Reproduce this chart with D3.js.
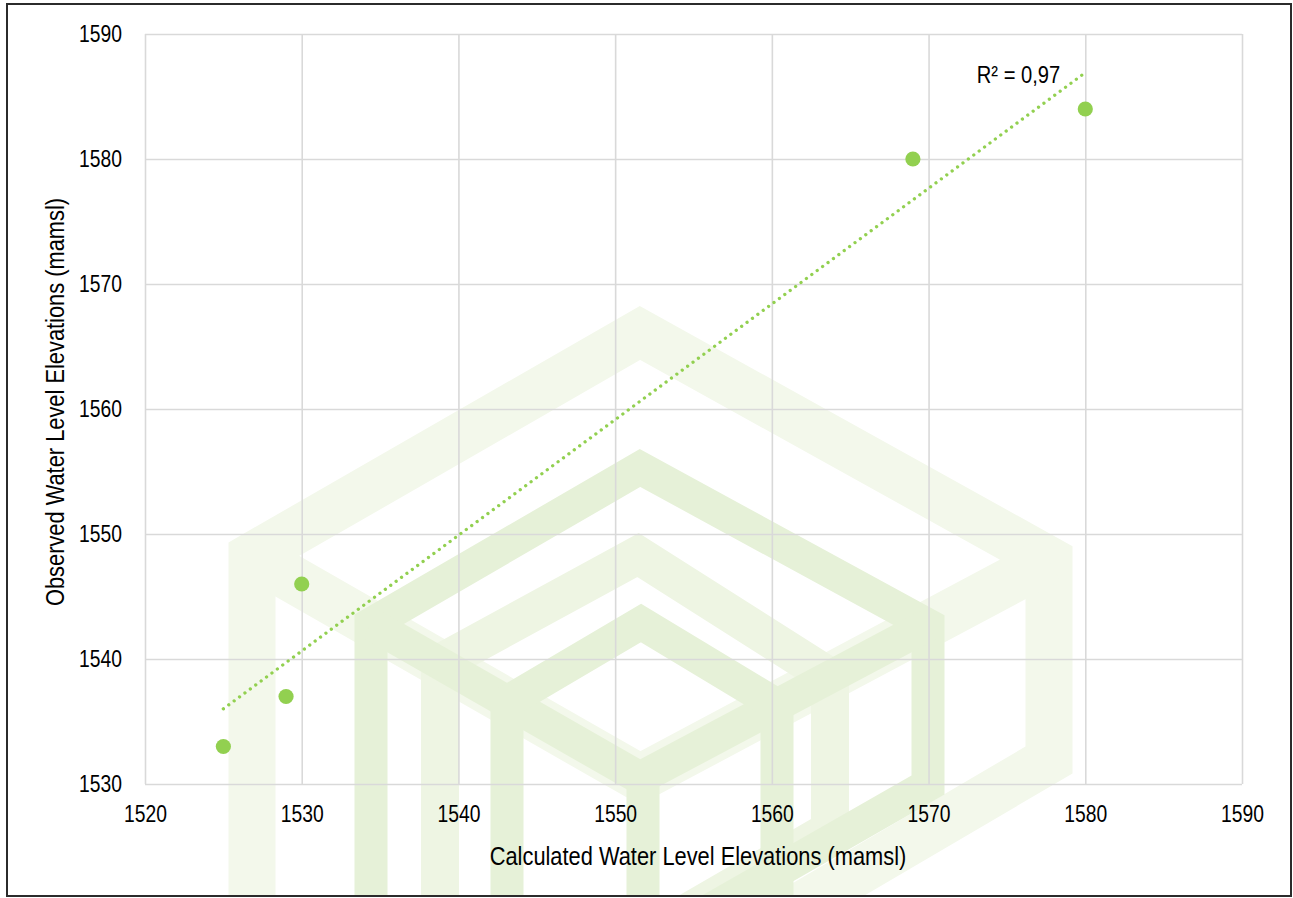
<!DOCTYPE html>
<html>
<head>
<meta charset="utf-8">
<script src="https://cdn.jsdelivr.net/npm/d3@7/dist/d3.min.js"></script>
<style>
  html, body { margin: 0; padding: 0; background: #fff; }
  svg { display: block; }
  .tick text, .title { font-family: "Liberation Sans", Arial, sans-serif; fill: #000; }
</style>
</head>
<body>
<svg id="chart" width="1293" height="898"></svg>
<script>
// Calculated vs observed water level elevations (m above mean sea level)
const calculated = [1525, 1529, 1530, 1569, 1580];
const observed   = [1533, 1537, 1546, 1580, 1584];
const xTicks = [1520, 1530, 1540, 1550, 1560, 1570, 1580, 1590];
const yTicks = [1530, 1540, 1550, 1560, 1570, 1580, 1590];
const xTitle = "Calculated Water Level Elevations (mamsl)";
const yTitle = "Observed Water Level Elevations (mamsl)";

const W = 1293, H = 898;
const plot = { left: 145, right: 1242, top: 34, bottom: 784 };
const green = "#92d050";
const gridColor = "#d9d9d9";
const NARROW = 0.84; // horizontal squeeze giving a narrow sans face

const svg = d3.select("#chart");

const x = d3.scaleLinear().domain([1520, 1590]).range([plot.left, plot.right]);
const y = d3.scaleLinear().domain([1530, 1590]).range([plot.bottom, plot.top]);

// squeeze a text element horizontally about its own anchor x
function narrow(sel) {
  sel.each(function () {
    const t = d3.select(this);
    const ax = +(t.attr("x") || 0);
    t.attr("transform", `translate(${ax},0) scale(${NARROW},1) translate(${-ax},0)`);
  });
}

// chart frame clip
svg.append("defs").append("clipPath").attr("id", "frame")
  .append("rect").attr("x", 7).attr("y", 4).attr("width", 1284).attr("height", 892);

svg.append("rect").attr("width", W).attr("height", H).attr("fill", "#fff");

// faint isometric cube emblem in the background
const emblem = svg.append("g").attr("clip-path", "url(#frame)")
  .attr("fill", "none").attr("stroke-linejoin", "miter").attr("stroke-miterlimit", 10);
const light = "#f3f8eb", mid = "#eef5e3", dark = "#e6f1d8";
const strokes = [
  // outer cube
  { c: light, w: 47, p: [[252, 960], [252, 556], [640, 333], [1049, 560], [1049, 760], [640, 1000]] },
  { c: light, w: 47, p: [[252, 556], [640, 778], [1049, 560]] },
  // third cube
  { c: mid, w: 38, p: [[440, 960], [440, 663], [638, 555], [830, 677], [830, 830], [640, 940]] },
  // second cube
  { c: dark, w: 33, p: [[371, 960], [371, 624], [640, 468], [928, 625], [928, 785], [640, 950]] },
  { c: dark, w: 33, p: [[371, 624], [640, 778], [928, 625]] },
  // inner cube
  { c: dark, w: 33, p: [[507, 960], [507, 702], [641, 623], [777, 705], [777, 960]] },
  // centre post
  { c: dark, w: 33, p: [[643, 778], [643, 960]] }
];
strokes.forEach(s => {
  emblem.append("path")
    .attr("d", d3.line()(s.p))
    .attr("stroke", s.c)
    .attr("stroke-width", s.w);
});

// gridlines
const grid = svg.append("g");
grid.append("g")
  .attr("transform", `translate(0,${plot.bottom})`)
  .call(d3.axisBottom(x).tickValues(xTicks).tickSize(-(plot.bottom - plot.top)).tickFormat(""))
  .call(g => g.select(".domain").remove())
  .call(g => g.selectAll("line").attr("stroke", gridColor).attr("stroke-width", 1.6));
grid.append("g")
  .attr("transform", `translate(${plot.left},0)`)
  .call(d3.axisLeft(y).tickValues(yTicks).tickSize(-(plot.right - plot.left)).tickFormat(""))
  .call(g => g.select(".domain").remove())
  .call(g => g.selectAll("line").attr("stroke", gridColor).attr("stroke-width", 1.6));

// tick labels
svg.append("g")
  .attr("transform", `translate(0,${plot.bottom})`)
  .call(d3.axisBottom(x).tickValues(xTicks).tickSize(0).tickPadding(22).tickFormat(d3.format("d")))
  .call(g => g.select(".domain").remove())
  .call(g => g.selectAll("text").attr("font-size", 23).call(narrow));
svg.append("g")
  .attr("transform", `translate(${plot.left},0)`)
  .call(d3.axisLeft(y).tickValues(yTicks).tickSize(0).tickPadding(23).tickFormat(d3.format("d")))
  .call(g => g.select(".domain").remove())
  .call(g => g.selectAll("text").attr("font-size", 23).call(narrow));

// axis titles
svg.append("text").attr("class", "title")
  .attr("x", 698).attr("y", 865)
  .attr("text-anchor", "middle").attr("font-size", 26)
  .text(xTitle)
  .call(narrow);
svg.append("text").attr("class", "title")
  .attr("transform", `translate(64,402) rotate(-90) scale(${NARROW},1)`)
  .attr("text-anchor", "middle").attr("font-size", 26)
  .text(yTitle);

// linear least-squares trendline
const n = calculated.length;
const mx = d3.mean(calculated), my = d3.mean(observed);
let sxy = 0, sxx = 0, syy = 0;
for (let i = 0; i < n; i++) {
  sxy += (calculated[i] - mx) * (observed[i] - my);
  sxx += (calculated[i] - mx) ** 2;
  syy += (observed[i] - my) ** 2;
}
const slope = sxy / sxx, intercept = my - slope * mx;
const r2 = (sxy * sxy) / (sxx * syy);
const [x0, x1] = d3.extent(calculated);
const fit = v => intercept + slope * v;

svg.append("line")
  .attr("x1", x(x0)).attr("y1", y(fit(x0)))
  .attr("x2", x(x1)).attr("y2", y(fit(x1)))
  .attr("stroke", green).attr("stroke-width", 3.3)
  .attr("stroke-linecap", "round")
  .attr("stroke-dasharray", "0.01 6.7");

// data points
svg.append("g").selectAll("circle")
  .data(calculated.map((c, i) => [c, observed[i]]))
  .join("circle")
  .attr("cx", d => x(d[0]))
  .attr("cy", d => y(d[1]))
  .attr("r", 7.6)
  .attr("fill", green);

// R² label next to the trendline end
svg.append("text").attr("class", "title")
  .attr("x", x(x1) - 25).attr("y", y(fit(x1)) + 10.5)
  .attr("text-anchor", "end").attr("font-size", 24)
  .text("R² = " + r2.toFixed(2).replace(".", ","))
  .call(narrow);

// chart border
svg.append("rect")
  .attr("x", 7).attr("y", 4).attr("width", 1284).attr("height", 892)
  .attr("fill", "none").attr("stroke", "#2b2b2b").attr("stroke-width", 2);
</script>
</body>
</html>
